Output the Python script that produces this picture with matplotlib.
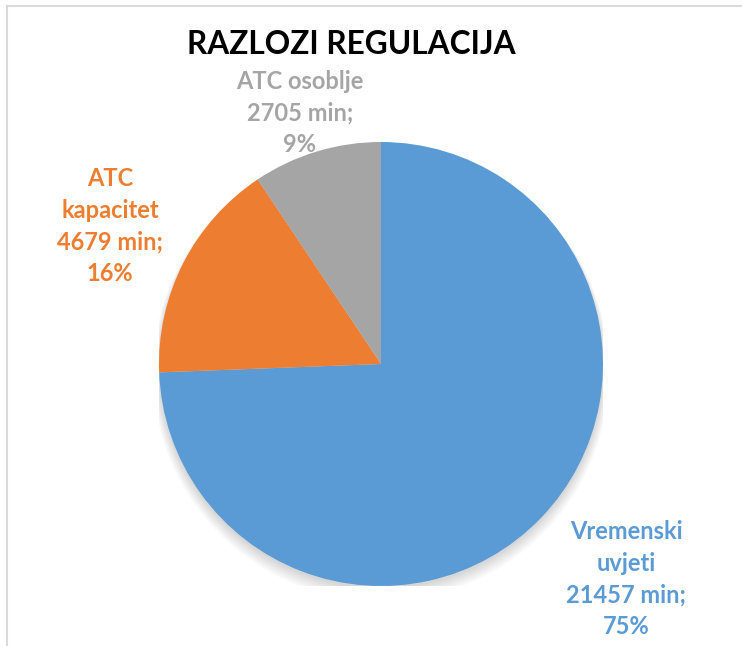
import matplotlib
matplotlib.use("Agg")
import matplotlib.pyplot as plt
from matplotlib.lines import Line2D
from matplotlib.patches import Circle

categories = ["Vremenski\nuvjeti", "ATC\nkapacitet", "ATC osoblje"]
minutes = [21457, 4679, 2705]
percents = [75, 16, 9]
colors = ["#5B9BD5", "#ED7D31", "#A5A5A5"]
title = "RAZLOZI REGULACIJA"

W, H = 742, 646
fig = plt.figure(figsize=(W / 100, H / 100), dpi=100)
fig.patch.set_facecolor("white")

# frame lines
fig.add_artist(Line2D([7 / W, 7 / W], [0, 1 - 6 / H], transform=fig.transFigure, color="#d9d9d9", lw=1.5))
fig.add_artist(Line2D([7 / W, 1], [1 - 6 / H, 1 - 6 / H], transform=fig.transFigure, color="#d9d9d9", lw=1.5))

cx, cy, r = 381, 364, 222
ax = fig.add_axes([(cx - r) / W, 1 - (cy + r) / H, 2 * r / W, 2 * r / H])
ax.set_xlim(-1, 1)
ax.set_ylim(-1, 1)
ax.set_aspect("equal")
ax.axis("off")

# soft shadow
for i in range(8):
    ax.add_patch(Circle((0.0, -0.012 - i * 0.004), 1.0 + i * 0.004, color="black", alpha=0.018, lw=0, zorder=0))

ax.pie(minutes, colors=colors, startangle=90, counterclock=False, radius=1.0,
       wedgeprops=dict(linewidth=0), frame=False)
ax.set_xlim(-1, 1)
ax.set_ylim(-1, 1)

font = "Lato"
fs = 17
label_pos = [(626, 579), (110, 226), (300, 113)]
for cat, m, p, c, (lx, ly) in zip(categories, minutes, percents, colors, label_pos):
    fig.text(lx / W, 1 - ly / H, f"{cat}\n{m} min;\n{p}%", color=c, fontsize=fs, fontweight="bold",
             family=font, ha="center", va="center", linespacing=1.45)

fig.text(351 / W, 1 - 45 / H, title, fontsize=22.8, fontweight="bold", family=font,
         ha="center", va="center", color="black")

fig.savefig("out.png", dpi=100)
